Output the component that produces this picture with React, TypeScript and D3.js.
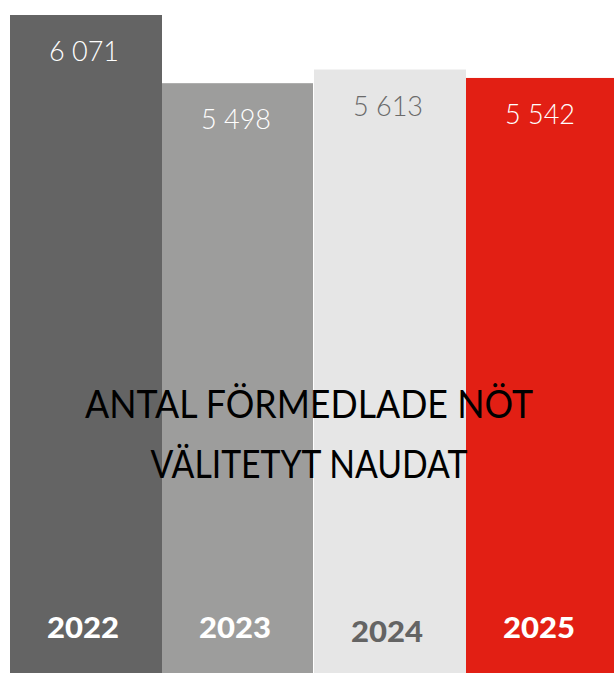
import React from "react";
import * as d3 from "d3";

const years = ["2022", "2023", "2024", "2025"];
const values = [6071, 5498, 5613, 5542];
const barColors = ["#646464", "#9d9d9c", "#e6e6e6", "#e21f14"];
const valueColors = ["#ffffff", "#ffffff", "#6a6a6a", "#ffffff"];
const yearColors = ["#ffffff", "#ffffff", "#646464", "#ffffff"];
const titleLines = ["ANTAL FÖRMEDLADE NÖT", "VÄLITETYT NAUDAT"];

const W = 614;
const H = 673;

const fmt = (v: number) => d3.format(",")(v).replace(/,/g, " ");

export default function App() {
  const x = d3.scaleBand<string>().domain(years).range([10, 618]).padding(0);
  const y = d3.scaleLinear().domain([542, 6071]).range([H, 15]);
  const font = "Lato, 'Open Sans', 'DejaVu Sans', sans-serif";
  return (
    <svg
      width={W}
      height={H}
      style={{ position: "absolute", left: 0, top: 0, display: "block" }}
    >
      <rect x={0} y={0} width={W} height={H} fill="#ffffff" />
      {years.map((yr, i) => {
        const x0 = x(yr)!;
        const bw = x.bandwidth();
        const top = y(values[i]);
        const cx = x0 + bw / 2 - 2;
        return (
          <g key={yr}>
            <rect x={x0} y={top} width={bw} height={H - top} fill={barColors[i]} />
            <text
              x={cx}
              y={top + 46}
              textAnchor="middle"
              fontFamily={font}
              fontWeight={300}
              fontSize={28}
              fill={valueColors[i]}
              textLength={70}
              lengthAdjust="spacingAndGlyphs"
            >
              {fmt(values[i])}
            </text>
            <text
              x={cx - 1}
              y={i === 2 ? 642 : 638}
              textAnchor="middle"
              fontFamily={font}
              fontWeight={900}
              fontSize={28}
              fill={yearColors[i]}
              textLength={72}
              lengthAdjust="spacingAndGlyphs"
            >
              {yr}
            </text>
          </g>
        );
      })}
      <line x1={313.5} x2={313.5} y1={y(values[2])} y2={H} stroke="#ffffff" strokeWidth={1} />
      {titleLines.map((t, i) => (
        <text
          key={t}
          x={309}
          y={418 + i * 60}
          textAnchor="middle"
          fontFamily={font}
          fontWeight={400}
          fontSize={38}
          fill="#000000"
          textLength={i === 0 ? 448 : 317}
          lengthAdjust="spacingAndGlyphs"
        >
          {t}
        </text>
      ))}
    </svg>
  );
}
